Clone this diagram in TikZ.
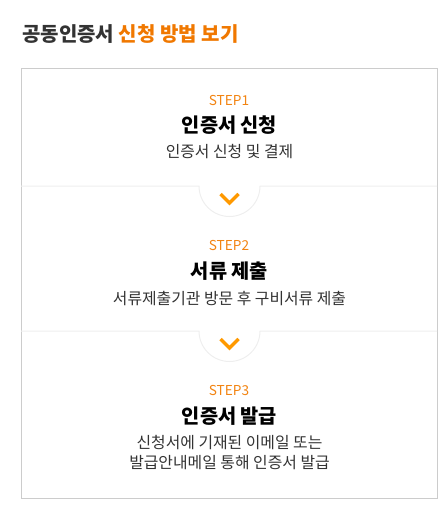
\documentclass[tikz,border=0pt]{standalone}
\usepackage{xcolor}
\usepackage{fontspec}
\setmainfont{Noto Sans CJK KR}
\usepackage{tikz}

\definecolor{darktxt}{RGB}{51,51,51}
\definecolor{titleorange}{RGB}{240,120,0}
\definecolor{steporange}{RGB}{242,132,18}
\definecolor{chevorange}{RGB}{255,153,0}
\definecolor{boxgray}{RGB}{204,204,204}
\definecolor{sepgray}{RGB}{238,238,238}

\begin{document}
\begin{tikzpicture}[x=0.75pt,y=0.75pt,yscale=-1,xscale=1,
  steplabel/.style={inner sep=0.75pt,text=steporange,font=\fontsize{10.25}{12}\selectfont},
  stephead/.style={inner sep=0.75pt,text=black,font=\fontsize{14.8}{17}\selectfont\bfseries},
  stepdesc/.style={inner sep=0.75pt,text=darktxt,align=center,font=\fontsize{11.9}{15}\selectfont},
  chevron/.style={draw=chevorange,line width=2.6pt,line cap=butt,line join=miter}]

\useasboundingbox (0,0) rectangle (442,506);

% title
\draw (21,34) node [anchor=west][inner sep=0.75pt][font=\fontsize{15}{18}\selectfont\bfseries] (title) {\textcolor{darktxt}{공동인증서} \textcolor{titleorange}{신청 방법 보기}};

% outer box
\draw [color=boxgray][line width=0.75]  (21,69) -- (437,69) -- (437,498) -- (21,498) -- cycle ;

% separators with half circle
\draw [color=sepgray][line width=0.75]  (21,186) -- (199,186) arc (180:0:30.5) -- (437,186) ;
\draw [color=sepgray][line width=0.75]  (21,331) -- (199,331) arc (180:0:30.5) -- (437,331) ;

% chevrons
\coordinate (chev1) at (229.5,199) ;
\coordinate (chev2) at (229.5,344) ;
\draw [chevron]  ([shift={(-9,-5)}]chev1) -- ([shift={(0,4)}]chev1) -- ([shift={(9,-5)}]chev1) ;
\draw [chevron]  ([shift={(-9,-5)}]chev2) -- ([shift={(0,4)}]chev2) -- ([shift={(9,-5)}]chev2) ;

% step 1
\draw (229,100) node [steplabel] (lbl1) {STEP1};
\draw (229.5,125) node [stephead] (head1) {인증서 신청};
\draw (229.5,152) node [stepdesc] (desc1) {인증서 신청 및 결제};

% step 2
\draw (229,245) node [steplabel] (lbl2) {STEP2};
\draw (229.5,271) node [stephead] (head2) {서류 제출};
\draw (229.5,299) node [stepdesc] (desc2) {서류제출기관 방문 후 구비서류 제출};

% step 3
\draw (229,390) node [steplabel] (lbl3) {STEP3};
\draw (229.5,416) node [stephead] (head3) {인증서 발급};
\draw (229.5,452.5) node [stepdesc] (desc3) {신청서에 기재된 이메일 또는\\발급안내메일 통해 인증서 발급};

\end{tikzpicture}
\end{document}
